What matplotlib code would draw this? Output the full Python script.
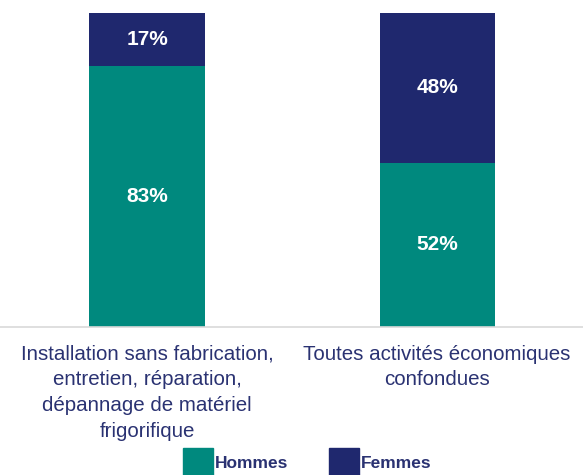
import matplotlib
matplotlib.use("Agg")
import matplotlib.pyplot as plt
from matplotlib.patches import Rectangle

categories = ["Installation sans fabrication,\nentretien, réparation,\ndépannage de matériel\nfrigorifique",
              "Toutes activités économiques\nconfondues"]
hommes = [83, 52]
femmes = [17, 48]
series_names = ["Hommes", "Femmes"]

teal = "#00897E"
navy = "#1F286E"
text_col = "#2A3272"

plt.rcParams['font.family'] = ['Liberation Sans', 'DejaVu Sans']

W, H = 583, 475
fig = plt.figure(figsize=(W / 100, H / 100), dpi=100)
ax = fig.add_axes([0, 0.3126, 1, 0.661])

x = list(range(len(categories)))
w = 0.397
ax.bar(x, hommes, width=w, color=teal)
ax.bar(x, femmes, width=w, bottom=hommes, color=navy)

for i in x:
    ax.text(i, hommes[i] / 2, f"{hommes[i]}%", ha="center", va="center",
            color="white", fontsize=15, fontweight="bold")
    ax.text(i, hommes[i] + femmes[i] / 2, f"{femmes[i]}%", ha="center", va="center",
            color="white", fontsize=15, fontweight="bold")

ax.set_xlim(-0.507, 1.503)
ax.set_ylim(0, 100)
for s in ["top", "left", "right"]:
    ax.spines[s].set_visible(False)
ax.spines["bottom"].set_color("#D9D9D9")
ax.spines["bottom"].set_linewidth(1.2)
ax.set_yticks([])
ax.set_xticks(x)
ax.set_xticklabels(categories, fontsize=14.8, color=text_col, linespacing=1.45)
ax.tick_params(axis="x", length=0, pad=13)

# manual legend
colors = [teal, navy]
leg_x = [183, 329]
for i, name in enumerate(series_names):
    fig.add_artist(Rectangle((leg_x[i] / W, 0), 30 / W, 27 / H,
                             transform=fig.transFigure, color=colors[i]))
    fig.text((leg_x[i] + 32) / W, 11 / H, name, ha="left", va="center",
             fontsize=12.5, fontweight="bold", color=text_col)

fig.savefig("out.png", dpi=100)
